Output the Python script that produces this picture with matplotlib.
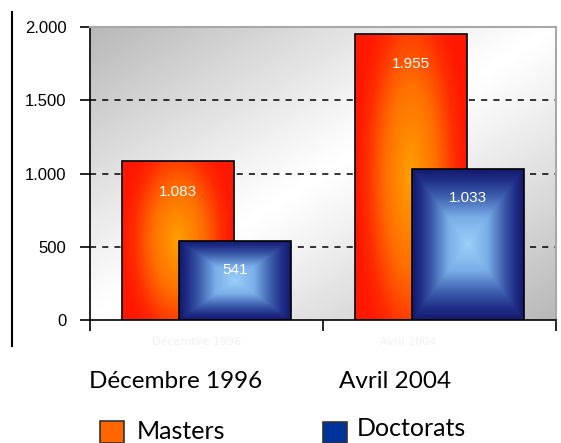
import numpy as np
import matplotlib
matplotlib.use("Agg")
from matplotlib import pyplot as plt
from matplotlib.colors import LinearSegmentedColormap
from matplotlib.lines import Line2D
from matplotlib.patches import Rectangle

categories = ["Décembre 1996", "Avril 2004"]
masters = [1083, 1955]
doctorats = [541, 1033]
value_labels_m = ["1.083", "1.955"]
value_labels_d = ["541", "1.033"]
yticks = [0, 500, 1000, 1500, 2000]
ytick_labels = ["0", "500", "1.000", "1.500", "2.000"]

fig = plt.figure(figsize=(5.61, 4.43), dpi=100)
ax = fig.add_axes([90 / 561, 1 - 320 / 443, 466 / 561, 293 / 443])
ax.set_xlim(0, 2)
ax.set_ylim(0, 2000)

# fond en dégradé gris
n = 200
u, v = np.meshgrid(np.linspace(0, 1, n), np.linspace(0, 1, n))
s = np.abs(v - u)
bg = 1 - 0.28 * s ** 1.1
ax.imshow(bg, extent=[0, 1, 0, 1], origin="lower", transform=ax.transAxes,
          cmap="gray", vmin=0, vmax=1, aspect="auto", zorder=0)

cmap_m = LinearSegmentedColormap.from_list(
    "m", [(0, "#ffa000"), (0.45, "#ff7000"), (0.8, "#ff2c00"), (1, "#ff1800")])
cmap_d = LinearSegmentedColormap.from_list(
    "d", [(0, "#9ccff8"), (0.35, "#7aaee8"), (0.65, "#3b5bab"), (0.85, "#212e88"), (1, "#141a6c")])

gu, gv = np.meshgrid(np.linspace(-1, 1, 120), np.linspace(-1, 1, 120))
grad_m = np.clip(np.sqrt(gu ** 2 + (0.7 * gv) ** 2), 0, 1)
grad_d = np.maximum(np.abs(gu), np.abs(gv))

x = np.arange(len(categories)) + 0.5
w = 0.48
off = 0.122


def gradient_bars(xs, vals, grad, cmap, z):
    bars = ax.bar(xs, vals, width=w, facecolor="none", edgecolor="black",
                  linewidth=1.2, zorder=z + 0.1)
    for b in bars:
        x0, y0 = b.get_x(), b.get_y()
        bw, bh = b.get_width(), b.get_height()
        clip = Rectangle((x0, y0), bw, bh, transform=ax.transData)
        im = ax.imshow(grad, extent=[x0, x0 + bw, y0, y0 + bh], origin="lower",
                       cmap=cmap, vmin=0, vmax=1, aspect="auto", zorder=z)
        im.set_clip_path(clip)
    return bars


gradient_bars(x - off, masters, grad_m, cmap_m, 2)
gradient_bars(x + off, doctorats, grad_d, cmap_d, 3)
ax.set_xlim(0, 2)
ax.set_ylim(0, 2000)

for xi, val, lab in zip(x - off, masters, value_labels_m):
    ax.text(xi, val - 210, lab, color="white", ha="center", va="center",
            fontsize=11, family="Liberation Sans", zorder=6)
for xi, val, lab in zip(x + off, doctorats, value_labels_d):
    ax.text(xi, val - 200, lab, color="white", ha="center", va="center",
            fontsize=11, family="Liberation Sans", zorder=6)

# lignes de grille pointillées
for yv in yticks[1:4]:
    ax.axhline(yv, color="black", linestyle=(0, (4, 4)), linewidth=1.1, zorder=1)

ax.set_yticks(yticks)
ax.set_yticklabels(ytick_labels, family="Liberation Sans", fontsize=12)
ax.set_xticks([0, 1, 2])
ax.set_xticklabels([])
ax.tick_params(axis="y", direction="out", length=7, width=1.2, pad=10)
ax.tick_params(axis="x", direction="out", length=8, width=1.2)

for side in ["left", "bottom"]:
    ax.spines[side].set_color("black")
    ax.spines[side].set_linewidth(1.2)
for side in ["top", "right"]:
    ax.spines[side].set_color("#a8a8a8")
    ax.spines[side].set_linewidth(1.5)

# trait vertical à gauche
fig.add_artist(Line2D([12 / 561, 12 / 561], [1 - 12 / 443, 1 - 346 / 443],
                      color="black", linewidth=1.5))

# reflets pâles sous l'axe
fig.text(197 / 561, 1 - 342 / 443, categories[0], color="#f0f0f0", fontsize=8,
         ha="center", va="center")
fig.text(408 / 561, 1 - 342 / 443, categories[1], color="#f0f0f0", fontsize=8,
         ha="center", va="center")

# libellés des catégories
fig.text(176 / 561, 1 - 381 / 443, categories[0], fontsize=17.5, family="Lato",
         ha="center", va="center")
fig.text(395 / 561, 1 - 381 / 443, categories[1], fontsize=17.5, family="Lato",
         ha="center", va="center")

# légende
fig.patches.append(Rectangle((100 / 561, 0), 24 / 561, 22 / 443, transform=fig.transFigure,
                             facecolor="#ff6600", edgecolor="#333333", linewidth=1.2))
fig.patches.append(Rectangle((323 / 561, 0), 24 / 561, 21 / 443, transform=fig.transFigure,
                             facecolor="#003399", edgecolor="#333333", linewidth=1.2))
fig.text(137 / 561, 1 - 439 / 443, "Masters", fontsize=18, family="Lato",
         ha="left", va="baseline")
fig.text(357 / 561, 1 - 436 / 443, "Doctorats", fontsize=18, family="Lato",
         ha="left", va="baseline")

fig.savefig("out.png", dpi=100)
